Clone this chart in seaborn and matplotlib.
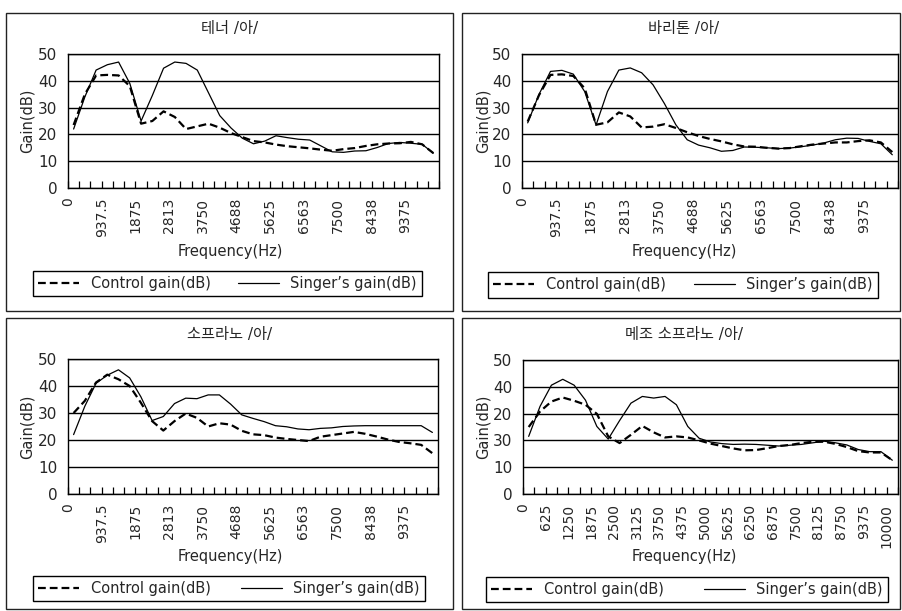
import numpy as np
import pandas as pd
import matplotlib
matplotlib.use("Agg")
import matplotlib.pyplot as plt
from matplotlib.patches import Rectangle
import seaborn as sns

# frequency bins (Hz), 33 categories
freq_bins = [0, 312.5, 625, 937.5, 1250, 1562.5, 1875, 2187.5, 2500, 2812.5, 3125,
             3437.5, 3750, 4062.5, 4375, 4687.5, 5000, 5312.5, 5625, 5937.5, 6250,
             6562.5, 6875, 7187.5, 7500, 7812.5, 8125, 8437.5, 8750, 9062.5, 9375,
             9687.5, 10000]

labels_3 = ["0", "937.5", "1875", "2813", "3750", "4688", "5625", "6563", "7500", "8438", "9375"]
labels_2 = ["0", "625", "1250", "1875", "2500", "3125", "3750", "4375", "5000", "5625",
            "6250", "6875", "7500", "8125", "8750", "9375", "10000"]

ylabels_ok = ["0", "10", "20", "30", "40", "50"]
ylabels_mezzo = ["0", "10", "30", "20", "40", "50"]   # as printed in the original

tenor_control = [23.5, 35, 42, 42.2, 42, 38, 24, 25, 28.6, 26.5, 22, 23, 24, 22.5, 20.5, 19, 17.5,
                 17, 16.2, 15.6, 15.2, 14.8, 14.3, 13.9, 14.5, 14.9, 15.7, 16.3, 16.6, 16.7, 17.2, 16.3, 13]
tenor_singer = [22, 34, 44, 46, 47, 39, 25, 34.5, 44.7, 47, 46.5, 44, 35.5, 27, 22.4, 18.6, 16.5,
                17.5, 19.5, 18.8, 18.2, 17.9, 15.7, 13.5, 13.3, 13.8, 13.9, 15.1, 16.6, 17, 16.7, 16.3, 13]

bari_control = [24.8, 34.7, 42.2, 42.4, 41.8, 37.2, 23.6, 24.5, 28.2, 26.7, 22.6, 22.9, 23.8, 22.4, 20.8,
                19.4, 18.3, 17.4, 16.3, 15.5, 15.4, 15, 14.7, 14.9, 15.6, 16.2, 16.6, 17, 17, 17.5, 17.8, 17, 13.4]
bari_singer = [24.3, 35, 43.5, 43.9, 42.5, 36, 23.5, 36, 44, 44.8, 43, 38.5, 31.5, 23.6, 18, 16, 15,
               13.7, 14, 15.3, 15.2, 15, 14.7, 14.9, 15.4, 16, 16.8, 18, 18.6, 18.5, 17.4, 16.5, 12.4]

sop_control = [30, 34.5, 41.3, 44.2, 42.5, 40, 33.8, 27, 23.5, 27, 29.8, 28.2, 25, 26.2, 25.7, 23.4, 22.1,
               21.8, 20.9, 20.4, 20, 19.6, 21.2, 21.8, 22.4, 23, 22.3, 21.3, 20.2, 19.3, 18.8, 18.2, 15.1]
sop_singer = [22, 32.5, 41, 44, 46, 43, 36, 27.2, 28.7, 33.5, 35.5, 35.3, 36.7, 36.7, 33.3, 29.3, 28,
              26.8, 25.3, 24.9, 24.1, 23.8, 24.3, 24.5, 25, 25.2, 25.3, 25.3, 25.3, 25.3, 25.3, 25.3, 22.8]

mezzo_control = [25, 30.8, 34.5, 36, 34.8, 33.3, 29.9, 21.5, 19, 22.1, 25.4, 23, 21.1, 21.5, 21.1, 20, 18.8,
                 17.9, 17, 16.3, 16.4, 17.1, 17.9, 18.3, 19, 19.5, 19.5, 18.7, 17.5, 16, 15.5, 15.5, 12.6]
mezzo_singer = [21.5, 32.7, 40.6, 42.8, 40.6, 35, 25.2, 20.5, 27.4, 33.9, 36.4, 35.8, 36.4, 33.3, 25.2, 20.8,
                19.4, 18.8, 18.5, 18.6, 18.5, 18.2, 17.9, 18.2, 18.5, 19.1, 19.7, 19.1, 18.3, 16.6, 15.8, 15.8, 12.6]

titles = ["테너 /아/", "바리톤 /아/", "소프라노 /아/", "메조 소프라노 /아/"]
legend_labels = ["Control gain(dB)", "Singer\u2019s gain(dB)"]

W, H = 902, 611

sns.set_style("white")
plt.rcParams["font.family"] = ["DejaVu Sans", "Noto Sans CJK KR"]
plt.rcParams["font.size"] = 10

fig = plt.figure(figsize=(W / 100, H / 100), dpi=100)


def fig_box(x0, y0, x1, y1):
    return [x0 / W, 1 - y1 / H, (x1 - x0) / W, (y1 - y0) / H]


# pixel layout: frame, plot area, legend box, title centre
panels = [
    dict(title=titles[0], control=tenor_control, singer=tenor_singer, every=3, xl=labels_3, yl=ylabels_ok,
         frame=(6, 13, 453, 311), plot=(68, 54, 439, 188), leg=(33, 270, 422, 297), cx=230, top=0),
    dict(title=titles[1], control=bari_control, singer=bari_singer, every=3, xl=labels_3, yl=ylabels_ok,
         frame=(462, 13, 900, 311), plot=(522, 54, 898, 188), leg=(488, 271, 878, 299), cx=684, top=0),
    dict(title=titles[2], control=sop_control, singer=sop_singer, every=3, xl=labels_3, yl=ylabels_ok,
         frame=(6, 318, 453, 609), plot=(68, 359, 438, 494), leg=(33, 575, 425, 602), cx=230, top=305),
    dict(title=titles[3], control=mezzo_control, singer=mezzo_singer, every=2, xl=labels_2, yl=ylabels_mezzo,
         frame=(462, 318, 900, 609), plot=(523, 360, 898, 494), leg=(486, 576, 888, 603), cx=684, top=305),
]

pos = np.arange(len(freq_bins))

for p in panels:
    x0, y0, x1, y1 = p["frame"]
    fig.patches.append(Rectangle((x0 / W, 1 - y1 / H), (x1 - x0) / W, (y1 - y0) / H,
                                 transform=fig.transFigure, fill=False, edgecolor="#222222", lw=1))

    px0, py0, px1, py1 = p["plot"]
    ax = fig.add_axes(fig_box(px0, py0, px1, py1))
    df = pd.DataFrame({"pos": pos, "freq": freq_bins, "control": p["control"], "singer": p["singer"]})

    sns.lineplot(data=df, x="pos", y="control", ax=ax, color="black", lw=1.6,
                 linestyle=(0, (3.5, 1.8)), legend=False)
    sns.lineplot(data=df, x="pos", y="singer", ax=ax, color="black", lw=0.9, legend=False)

    ax.set_xlim(-0.5, len(freq_bins) - 0.5)
    ax.set_ylim(0, 50)
    ax.set_yticks(range(0, 51, 10))
    ax.set_yticklabels(p["yl"])
    ax.yaxis.grid(True, color="black", lw=1)
    ax.xaxis.grid(False)

    # tick marks sit between categories, labels on every 3rd (or 2nd) mark
    ticks = np.arange(len(freq_bins) + 1) - 0.5
    tick_labels = [""] * len(ticks)
    for k, lab in enumerate(p["xl"]):
        tick_labels[k * p["every"]] = lab
    ax.set_xticks(ticks)
    ax.set_xticklabels(tick_labels, rotation=90)
    ax.tick_params(axis="x", bottom=True, direction="in", length=5, width=0.9, color="black", pad=7, labelsize=10)
    ax.tick_params(axis="y", left=False, pad=4, labelsize=11)
    for s in ax.spines.values():
        s.set_color("black")
        s.set_linewidth(1)

    def to_ax(px, py):
        return (px - px0) / (px1 - px0), (py1 - py) / (py1 - py0)

    ax.set_ylabel("Gain(dB)", fontsize=10.5)
    ax.yaxis.set_label_coords(*to_ax(p["frame"][0] + 29, (py0 + py1) / 2))
    ax.set_xlabel("Frequency(Hz)", fontsize=10.5)
    ax.xaxis.set_label_coords(*to_ax(p["cx"], p["top"] + 244))
    fig.text(p["cx"] / W, 1 - (p["top"] + 29) / H, p["title"], ha="center", va="center", fontsize=11)

    lx0, ly0, lx1, ly1 = p["leg"]
    leg = ax.legend(ax.lines[:2], legend_labels, ncol=2, loc="center", mode="expand",
                    bbox_to_anchor=fig_box(lx0, ly0, lx1, ly1), bbox_transform=fig.transFigure,
                    frameon=True, fancybox=False, edgecolor="black", framealpha=1,
                    borderaxespad=0, handlelength=2.8, fontsize=10.5, borderpad=0.35)
    leg.get_frame().set_linewidth(1)

fig.savefig("out.png", dpi=100)
